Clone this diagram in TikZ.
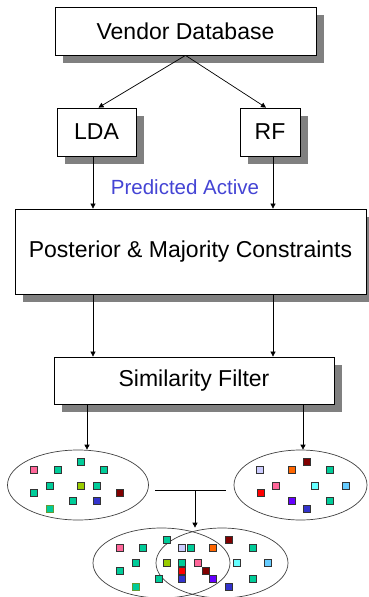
\documentclass[tikz,border=0pt]{standalone}
\usepackage{fontspec}
\setmainfont{Liberation Sans}
\usetikzlibrary{shapes.geometric,shadows,arrows.meta}

\definecolor{tl}{HTML}{00CC99}
\definecolor{pk}{HTML}{FF6699}
\definecolor{ol}{HTML}{99CC00}
\definecolor{dr}{HTML}{800000}
\definecolor{bl}{HTML}{3333CC}
\definecolor{lv}{HTML}{CCCCFF}
\definecolor{og}{HTML}{FF6600}
\definecolor{cy}{HTML}{66FFFF}
\definecolor{lb}{HTML}{66CCFF}
\definecolor{rd}{HTML}{FF0000}
\definecolor{vi}{HTML}{6600FF}
\definecolor{gb}{HTML}{669933}
\definecolor{pblue}{HTML}{4444D4}

\tikzset{
  box/.style={draw, fill=white, line width=0.8pt, inner sep=0pt,
    font=\fontsize{23}{27}\selectfont,
    drop shadow={shadow xshift=8pt, shadow yshift=-8pt, fill=black!50, opacity=1}},
  pool/.style={ellipse, draw=black!75, line width=0.7pt, inner sep=0pt},
  chip/.style={draw=black!80, line width=0.6pt},
}

\begin{document}
\begin{tikzpicture}[x=1pt, y=-1pt, line width=0.7pt, >={Triangle[length=5pt,width=5pt]}]
  \useasboundingbox (0,0) rectangle (368,597);

  \node[box, minimum width=261, minimum height=48] (vendor) at (185.5,31) {Vendor Database};
  \node[box, minimum width=79, minimum height=48] (lda) at (96.5,132) {LDA};
  \node[box, minimum width=60, minimum height=48] (rf) at (270,132) {RF};
  \node[text=pblue, font=\fontsize{20.5}{24}\selectfont] (pred) at (185,187.5) {Predicted Active};
  \node[box, minimum width=351, minimum height=85] (post) at (190.5,251.5) {Posterior \& Majority Constraints};
  \node[box, minimum width=280, minimum height=47] (sim) at (194,380.5) {Similarity Filter};

  \node[pool, minimum width=141, minimum height=70] (poolA) at (78,485) {};
  \node[pool, minimum width=133, minimum height=70] (poolB) at (300.5,485) {};
  \node[pool, minimum width=137, minimum height=70] (mixA) at (161.5,563) {};
  \node[pool, minimum width=132, minimum height=70] (mixB) at (222,563) {};

  % columns of the vertical arrows
  \coordinate (cl) at (93,0);
  \coordinate (cr) at (273,0);
  \coordinate (dl) at (87,0);
  \coordinate (dr) at (303,0);
  \coordinate (jl) at (155,490);
  \coordinate (jr) at (226,490);
  \coordinate (jm) at (195,490);

  \draw[->] (vendor.south) -- ([xshift=2]lda.north);
  \draw[->] (vendor.south) -- ([xshift=-4]rf.north);
  \draw[->] (lda.south -| cl) -- (post.north -| cl);
  \draw[->] (rf.south -| cr) -- (post.north -| cr);
  \draw[->] (post.south -| cl) -- (sim.north -| cl);
  \draw[->] (post.south -| cr) -- (sim.north -| cr);
  \draw[->] (sim.south -| dl) -- (poolA.north -| dl);
  \draw[->] (sim.south -| dr) -- (poolB.north -| dr);
  \draw (jl) -- (jr);
  \draw[->] (jm) -- (jm |- mixA.north);

  % compounds
  \foreach \x/\y/\c in {34/470/pk, 81/462/tl, 58/470/tl, 104/470/tl, 50/486/tl,
      81/486/ol, 97/486/tl, 34/493/tl, 120/493/dr, 73/501/tl, 97/501/bl,
      260/470/lv, 291.5/470/og, 307/462/dr, 330/470/tl, 276/486/pk, 315/486/cy,
      346/486/lb, 261/493/rd, 291.5/501/vi, 330/501/tl, 307/509/bl,
      167/540/tl, 229/540/dr, 120/548/pk, 143/548/tl, 182/548/lv, 190.5/548/tl,
      213/548/og, 252.5/548/tl, 136/563/tl, 167/563/ol, 182/563/tl, 198/563/pk,
      237/563/cy, 268/563/lb, 120/571/tl, 182/571/rd, 206/571/dr, 159/579/tl,
      182/579/bl, 213/579/vi, 252.5/579/tl, 229/587/bl}
    \filldraw[chip, fill=\c] (\x-3.5,\y-3.5) rectangle ++(7,7);
  \foreach \x/\y in {50/509, 136/587}
    \filldraw[chip, draw=gb, fill=tl] (\x-3.5,\y-3.5) rectangle ++(7,7);
\end{tikzpicture}
\end{document}
